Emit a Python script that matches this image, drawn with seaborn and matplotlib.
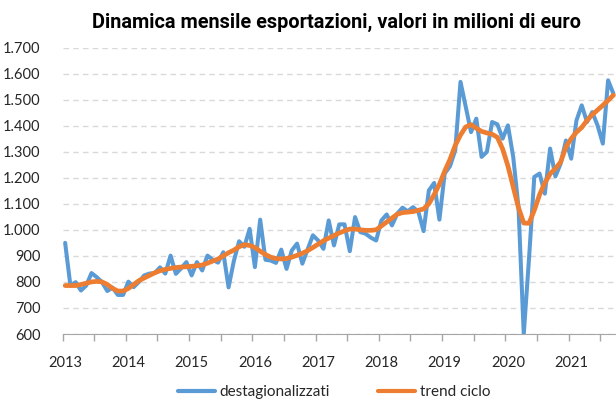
import numpy as np
import pandas as pd
import seaborn as sns
import matplotlib.pyplot as plt
from matplotlib.ticker import FuncFormatter, FixedLocator
from matplotlib.lines import Line2D

# esportazioni mensili, gen 2013 - set 2021 (milioni di euro)
destagionalizzati = [950, 786, 799, 767, 786, 834, 818, 799, 765, 778, 750, 750,
                     801, 780, 800, 825, 832, 834, 856, 832, 901, 831, 852, 876,
                     825, 876, 844, 901, 885, 874, 914, 779, 880, 956, 935, 1004,
                     857, 1039, 885, 882, 873, 924, 850, 921, 947, 870, 925, 979,
                     959, 927, 1036, 940, 1021, 1021, 918, 1049, 991, 985, 970, 959,
                     1036, 1059, 1017, 1062, 1085, 1071, 1087, 1070, 995, 1151, 1180, 1039,
                     1216, 1244, 1305, 1568, 1472, 1375, 1427, 1280, 1299, 1414, 1405, 1350,
                     1401, 1280, 1087, 600, 890, 1203, 1216, 1139, 1312, 1205, 1254, 1343,
                     1273, 1420, 1478, 1414, 1452, 1401, 1331, 1574, 1523]
trend_ciclo = [786, 786, 786, 790, 795, 800, 802, 800, 790, 775, 765, 765,
               775, 790, 805, 815, 825, 835, 843, 848, 852, 855, 857, 858,
               860, 862, 865, 872, 880, 888, 900, 912, 922, 935, 943, 940,
               932, 918, 905, 895, 890, 888, 890, 895, 902, 910, 920, 932,
               945, 958, 968, 978, 988, 996, 1003, 1003, 1000, 998, 998, 1000,
               1015, 1030, 1045, 1060, 1066, 1068, 1070, 1075, 1080, 1100, 1135, 1175,
               1225, 1270, 1324, 1364, 1395, 1404, 1390, 1378, 1372, 1367, 1355, 1310,
               1245, 1165, 1085, 1026, 1025, 1075, 1135, 1180, 1215, 1235, 1260, 1318,
               1350, 1375, 1393, 1420, 1442, 1460, 1478, 1497, 1517]
anni = ['2013', '2014', '2015', '2016', '2017', '2018', '2019', '2020', '2021']

df = pd.DataFrame({'t': np.arange(len(destagionalizzati)),
                   'destagionalizzati': destagionalizzati,
                   'trend ciclo': trend_ciclo})

sns.set_style('white')
plt.rcParams['font.family'] = ['Lato', 'DejaVu Sans']

blu = '#5B9BD5'
arancio = '#ED7D31'

fig = plt.figure(figsize=(6.16, 4.05), dpi=100)
ax = fig.add_axes([62.5 / 616, (405 - 334) / 405, (616 - 62.5) / 616, (334 - 47.5) / 405])

sns.lineplot(data=df, x='t', y='destagionalizzati', color=blu, linewidth=2.9, ax=ax)
sns.lineplot(data=df, x='t', y='trend ciclo', color=arancio, linewidth=3.4, ax=ax)

ax.set_xlim(-0.5, len(df) - 0.5)
ax.set_ylim(600, 1700)
ax.set_yticks(range(600, 1701, 100))
ax.yaxis.set_major_formatter(FuncFormatter(lambda v, p: f'{int(v):,}'.replace(',', '.')))
ax.set_xticks(np.arange(len(anni)) * 12)
ax.set_xticklabels(anni)
ax.xaxis.set_minor_locator(FixedLocator(np.arange(-0.5, len(df), 6)))
ax.tick_params(axis='x', which='major', length=0, pad=16, labelsize=10.5, labelcolor='#262626')
ax.tick_params(axis='x', which='minor', length=5, width=1, color='#A6A6A6', direction='out', bottom=True)
ax.tick_params(axis='y', length=0, pad=16, labelsize=10.5, labelcolor='#262626')

ax.yaxis.grid(True, color='#D9D9D9', linestyle=(0, (4, 3)), linewidth=1)
ax.xaxis.grid(False)
for s in ['top', 'right', 'left']:
    ax.spines[s].set_visible(False)
ax.spines['bottom'].set_color('#A6A6A6')
ax.spines['bottom'].set_zorder(0.5)
ax.set_xlabel('')
ax.set_ylabel('')

fig.text(337 / 616, 1 - 22 / 405, 'Dinamica mensile esportazioni, valori in milioni di euro',
         ha='center', va='center', fontsize=14.3, fontweight='bold', color='#000000',
         family=['Roboto', 'DejaVu Sans'])

maniglie = [Line2D([], [], color=blu, linewidth=3), Line2D([], [], color=arancio, linewidth=3)]
fig.legend(maniglie, ['destagionalizzati', 'trend ciclo'], loc='center',
           bbox_to_anchor=(334 / 616, 1 - 392 / 405), ncol=2, frameon=False,
           handlelength=2.4, handletextpad=0.3, columnspacing=3.2,
           prop={'size': 11})

fig.savefig('out.png', dpi=100)
